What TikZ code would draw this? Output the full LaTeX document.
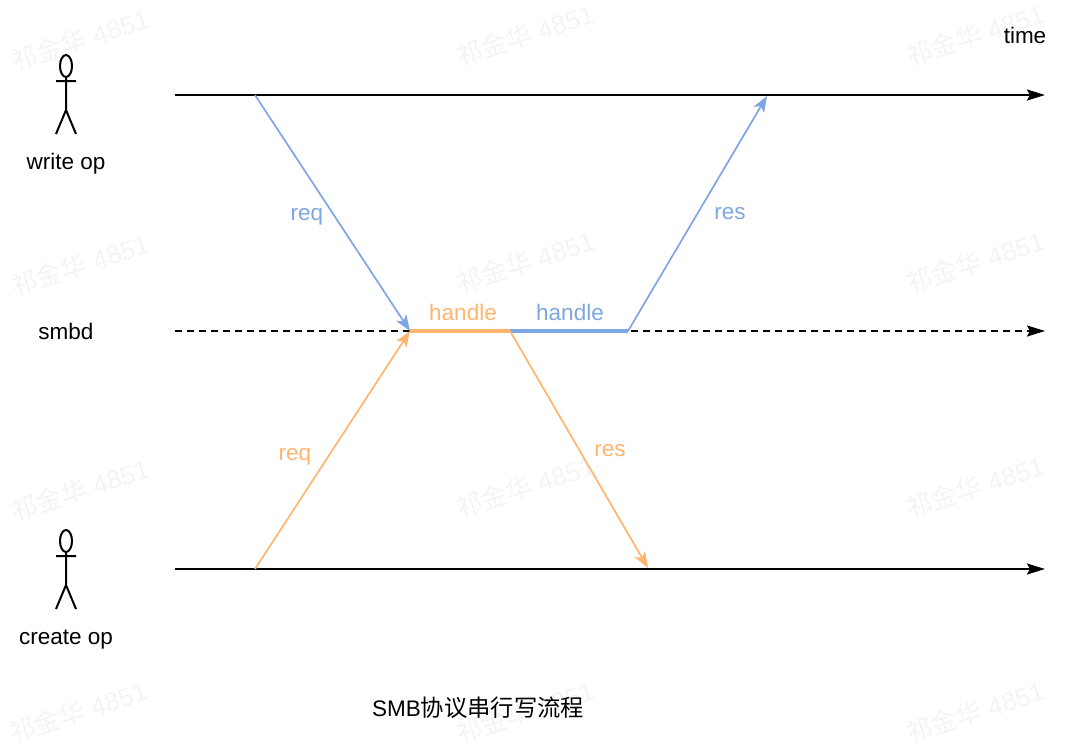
\documentclass[tikz,border=0pt]{standalone}
\usepackage{fontspec}
\setmainfont{Liberation Sans}
\newfontfamily\cjk{Noto Sans CJK SC}
\usetikzlibrary{arrows.meta}
\definecolor{cblue}{HTML}{7EA6E0}
\definecolor{corange}{HTML}{FFB570}
\definecolor{wmgray}{HTML}{F4F4F4}
\tikzset{
  lbl/.style={font=\fontsize{22.5}{27}\selectfont, inner sep=0pt},
  timeline/.style={line width=2pt, -{Stealth[length=18pt,width=11pt,inset=3pt]}},
  dashline/.style={line width=2pt, dash pattern=on 7pt off 5pt, -{Stealth[length=18pt,width=11pt,inset=3pt]}},
  msg/.style={line width=1.7pt, -{Stealth[length=16pt,width=12pt,inset=4pt]}},
  work/.style={line width=3.2pt},
  stick/.style={line width=2pt},
  wm/.style={text=wmgray, rotate=18, font=\fontsize{26}{30}\selectfont, inner sep=0pt}
}
\begin{document}
\begin{tikzpicture}[x=1pt,y=-1pt]
\useasboundingbox (0,0) rectangle (1080,745);
% watermarks
\foreach \i/\px/\py in {1/80/40,2/525/35,3/975/35,4/80/265,5/525/262,6/975/262,7/80/490,8/525/487,9/975/487,10/78/712,11/525/712,12/975/712}
  \node[wm] (wm\i) at (\px,\py) {{\cjk 祁金华} 4851};
% stick figures
\draw[stick] (66,66) ellipse [x radius=6, y radius=11];
\draw[stick] (56,81) -- (76,81) (66,77) -- (66,110) (56,134) -- (66,110) -- (76,134);
\draw[stick] (66,541) ellipse [x radius=6, y radius=11];
\draw[stick] (56,556) -- (76,556) (66,552) -- (66,585) (56,609) -- (66,585) -- (76,609);
\node[lbl] (writeop) at (66,164) {write op};
\node[lbl] (smbd) at (66,331) {smbd};
\node[lbl] (createop) at (66,640) {create op};
\node[lbl] (time) at (1025,35) {time};
% coordinates
\coordinate (tS) at (175,95);
\coordinate (tE) at (1045,95);
\coordinate (mS) at (175,331);
\coordinate (mE) at (1045,331);
\coordinate (bS) at (175,569);
\coordinate (bE) at (1045,569);
\coordinate (wReq) at (255,95);
\coordinate (cReq) at (255,569);
\coordinate (h1) at (410,331);
\coordinate (h2) at (510,331);
\coordinate (h3) at (628,331);
\coordinate (wRes) at (767,96);
\coordinate (cRes) at (648,568);
% timelines
\draw[timeline] (tS) -- (tE);
\draw[dashline] (mS) -- (mE);
\draw[timeline] (bS) -- (bE);
% handling
\draw[work, corange] (h1) -- (h2);
\draw[work, cblue] (h2) -- (h3);
% messages
\draw[msg, cblue] (wReq) -- (h1);
\draw[msg, corange] (cReq) -- (h1);
\draw[msg, cblue] (h3) -- (wRes);
\draw[msg, corange] (h2) -- (cRes);
% labels
\node[lbl, text=cblue] (lreq1) at (307,217) {req};
\node[lbl, text=cblue] (lres1) at (730,214) {res};
\node[lbl, text=corange] (lreq2) at (295,457) {req};
\node[lbl, text=corange] (lres2) at (610,451) {res};
\node[lbl, text=corange] (lh1) at (463,312) {handle};
\node[lbl, text=cblue] (lh2) at (570,312) {handle};
% caption
\node[lbl, anchor=west] (cap) at (372,708) {SMB{\cjk\fontsize{23.3}{28}\selectfont 协议串行写流程}};
\end{tikzpicture}
\end{document}
